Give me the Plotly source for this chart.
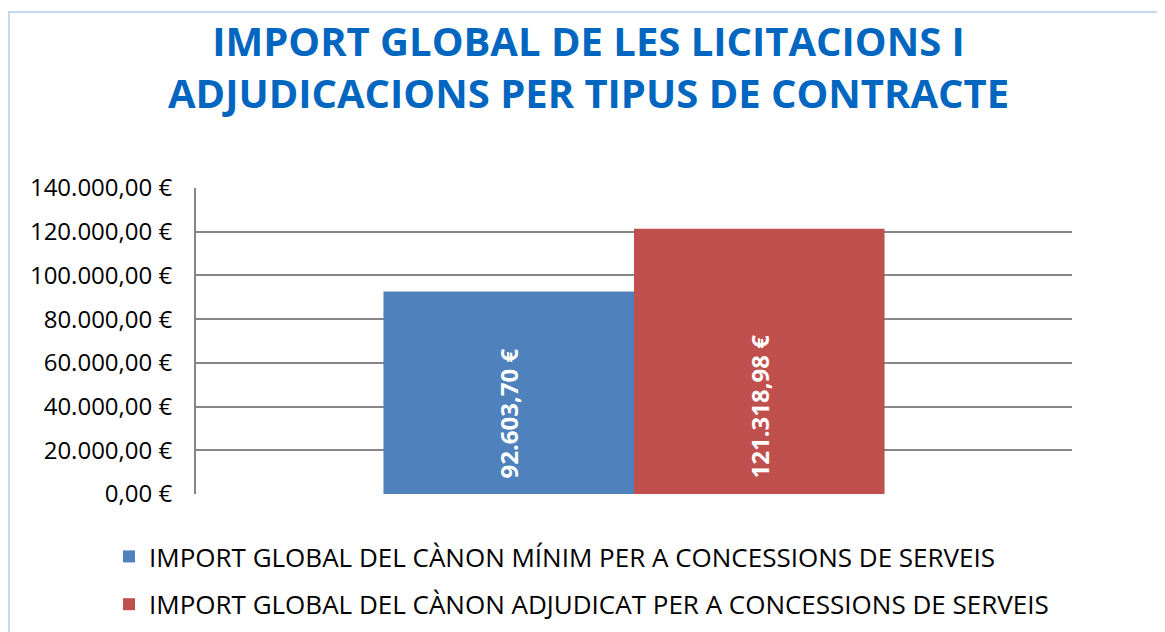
import plotly.graph_objects as go

categories = [""]
series_names = [
    "IMPORT GLOBAL DEL CÀNON MÍNIM PER A CONCESSIONS DE SERVEIS",
    "IMPORT GLOBAL DEL CÀNON ADJUDICAT PER A CONCESSIONS DE SERVEIS",
]
series_values = [[92603.70], [121318.98]]
series_labels = ["92.603,70 €", "121.318,98 €"]
series_colors = ["#4F81BD", "#C0504D"]
tick_values = [0, 20000, 40000, 60000, 80000, 100000, 120000, 140000]
tick_labels = ["0,00 €", "20.000,00 €", "40.000,00 €", "60.000,00 €", "80.000,00 €",
               "100.000,00 €", "120.000,00 €", "140.000,00 €"]
title_lines = ["IMPORT GLOBAL DE LES LICITACIONS I", "ADJUDICACIONS PER TIPUS DE CONTRACTE"]

FONT = "Open Sans"
OFF = 8  # page body margin
W, H = 1165 - 2 * OFF, 632 - OFF
L, T = 196 - OFF, 188 - OFF
R = W - (1072 - OFF)
B = H - (494 - OFF)
pw, ph = W - L - R, H - T - B


def px(x):
    return (x - OFF - L) / pw


def py(y):
    return (H - B - (y - OFF)) / ph


fig = go.Figure()
for name, vals, lab, col in zip(series_names, series_values, series_labels, series_colors):
    fig.add_trace(go.Bar(
        x=categories, y=vals, name=name, legendgroup=name,
        marker=dict(color=col, line=dict(width=0)),
        text=["\u00a0\u00a0" + lab], textposition="inside", insidetextanchor="start",
        textangle=-90, constraintext="none",
        textfont=dict(family=FONT, size=24, color="white", weight="bold"),
    ))

annotations = [dict(
    text="<br>".join(title_lines), xref="paper", yref="paper", x=px(588), y=py(66.5),
    xanchor="center", yanchor="middle", align="center", showarrow=False,
    font=dict(family=FONT, size=40, color="#0066C0", weight="bold"),
)]

fig.update_layout(
    width=W, height=H,
    margin=dict(l=L, r=R, t=T, b=B, autoexpand=False),
    paper_bgcolor="white", plot_bgcolor="white",
    barmode="group", bargap=0.428, bargroupgap=0,
    annotations=annotations,
    xaxis=dict(showticklabels=False, showgrid=False, zeroline=False, showline=False,
               ticks=""),
    yaxis=dict(range=[0, 140000], tickvals=tick_values, ticktext=tick_labels,
               tickfont=dict(family=FONT, size=24, color="black"),
               showgrid=True, gridcolor="#868686", gridwidth=2,
               showline=True, linecolor="#868686", linewidth=2,
               zeroline=False, ticks="outside", ticklen=0, tickwidth=0,
               tickcolor="rgba(0,0,0,0)", ticklabelstandoff=17),
    legend=dict(orientation="v", x=px(109), xanchor="left", y=py(533), yanchor="top",
                font=dict(family=FONT, size=26, color="black"),
                tracegroupgap=11, itemwidth=30, bgcolor="rgba(0,0,0,0)"),
    showlegend=True,
    shapes=[dict(type="rect", xref="paper", yref="paper",
                 x0=px(9), x1=px(1163), y0=py(700), y1=py(12),
                 line=dict(color="#C6D9F1", width=2), fillcolor="rgba(0,0,0,0)",
                 layer="below")],
)

fig.write_html("out.html")
